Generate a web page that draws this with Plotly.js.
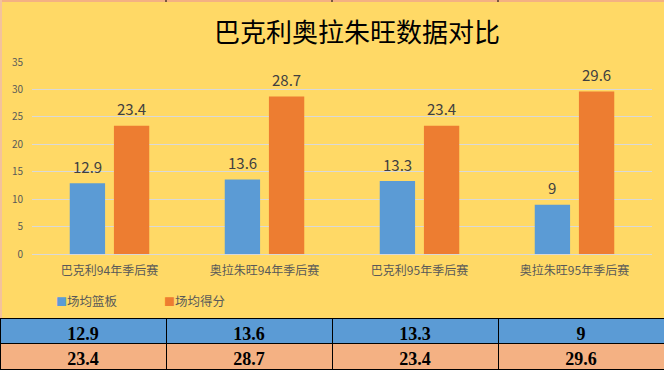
<!DOCTYPE html>
<html>
<head>
<meta charset="utf-8">
<script src="https://cdn.plot.ly/plotly-3.0.1.min.js"></script>
<style>
  html, body { margin: 0; padding: 0; background: #ffffff; }
  #chart { width: 664px; height: 370px; }
</style>
</head>
<body>
<div id="chart"></div>
<script>
// ---- data ----
const titleText = "巴克利奥拉朱旺数据对比";
const categories = ["巴克利94年季后赛", "奥拉朱旺94年季后赛", "巴克利95年季后赛", "奥拉朱旺95年季后赛"];
const seriesNames = ["场均篮板", "场均得分"];
const rebounds = [12.9, 13.6, 13.3, 9];
const points = [23.4, 28.7, 23.4, 29.6];
const yTicks = [0, 5, 10, 15, 20, 25, 30, 35];

// ---- styles ----
const W = 664, H = 370;
const yellow = "#FFD966";
const blue = "#5B9BD5";
const orange = "#ED7D31";
const salmon = "#F4B183";
const cjk = "'Noto Sans CJK SC', 'Noto Sans', sans-serif";
const colors = [blue, orange];
const series = [rebounds, points];

const tableTop = 318;      // px from top
const px = v => 1 - v / H; // convert top-based px to paper fraction
const xDom = [32 / W, 652 / W];
const bargap = 0.43, bargroupgap = 0.2;
const catWidthPx = (xDom[1] - xDom[0]) * W / categories.length;
const slotPx = catWidthPx * (1 - bargap) / series.length;

const traces = series.map((vals, s) => ({
  type: "bar", name: seriesNames[s], x: categories, y: vals,
  marker: { color: colors[s] },
  showlegend: false,
  hoverinfo: "skip"
}));

traces.push({
  type: "table",
  domain: { x: [0, 1], y: [0, px(tableTop)] },
  columnwidth: [1, 1, 1, 1],
  header: {
    values: rebounds.map(v => String(v)),
    fill: { color: blue },
    line: { color: "#000000", width: 1 },
    align: "center", height: 25,
    font: { family: "'Liberation Serif', serif", size: 18, color: "#000000", weight: "bold" }
  },
  cells: {
    values: points.map(v => [String(v)]),
    fill: { color: salmon },
    line: { color: "#000000", width: 1 },
    align: "center", height: 26,
    font: { family: "'Liberation Serif', serif", size: 18, color: "#000000", weight: "bold" }
  }
});

// data labels above bars
const annotations = [];
series.forEach((vals, s) => {
  const off = (s - (series.length - 1) / 2) * slotPx;
  vals.forEach((v, i) => {
    annotations.push({
      x: categories[i], y: v, xref: "x", yref: "y",
      xshift: off, yshift: 17, yanchor: "middle", xanchor: "center",
      text: String(v), showarrow: false,
      font: { family: cjk, size: 15, color: "#404040" }
    });
  });
});

// legend (Excel-style: small square right next to its label)
const legendX = [54, 162];
seriesNames.forEach((nm, s) => {
  annotations.push({
    xref: "paper", yref: "paper", x: legendX[s] / W, y: px(300),
    xanchor: "left", yanchor: "middle", showarrow: false,
    text: '<span style="color:' + colors[s] + ';font-size:11px">■</span>' + nm,
    font: { family: cjk, size: 12.5, color: "#595959" }
  });
});

const colEdges = [W / 4, W / 2, 3 * W / 4];

const shapes = [
  { type: "rect", xref: "paper", yref: "paper", x0: 0, x1: 1, y0: px(2), y1: 1,
    fillcolor: salmon, line: { width: 0 }, layer: "above" },
  { type: "rect", xref: "paper", yref: "paper", x0: 0, x1: 2 / W, y0: px(tableTop), y1: 1,
    fillcolor: "#F4C29B", line: { width: 0 }, layer: "above" }
].concat(colEdges.map(e => ({
  type: "line", xref: "paper", yref: "paper", x0: e / W, x1: e / W, y0: px(2), y1: 1,
  line: { color: "#000000", width: 1 }, layer: "above"
})));

const layout = {
  width: W, height: H,
  margin: { l: 0, r: 0, t: 0, b: 0 },
  paper_bgcolor: yellow,
  plot_bgcolor: yellow,
  title: {
    text: titleText, x: 357 / W, xanchor: "center", xref: "paper",
    y: px(33), yanchor: "middle", yref: "paper",
    font: { family: cjk, size: 26, color: "#000000" }
  },
  barmode: "group",
  bargap: bargap,
  bargroupgap: bargroupgap,
  showlegend: false,
  xaxis: {
    domain: xDom,
    showline: false, showgrid: false, zeroline: false, ticks: "",
    tickfont: { family: cjk, size: 12, color: "#595959" },
    ticklabelstandoff: 8,
    fixedrange: true
  },
  yaxis: {
    domain: [px(254), px(62)],
    range: [0, 35],
    tickvals: yTicks, ticktext: yTicks.map(String),
    showgrid: true, gridcolor: "#D9D9D9", gridwidth: 1,
    zeroline: true, zerolinecolor: "#D9D9D9", zerolinewidth: 1,
    showline: false, ticks: "",
    tickfont: { family: cjk, size: 10, color: "#595959" },
    ticklabelstandoff: 8,
    fixedrange: true
  },
  annotations: annotations,
  shapes: shapes
};

Plotly.newPlot("chart", traces, layout, { staticPlot: true, displayModeBar: false });
</script>
</body>
</html>
